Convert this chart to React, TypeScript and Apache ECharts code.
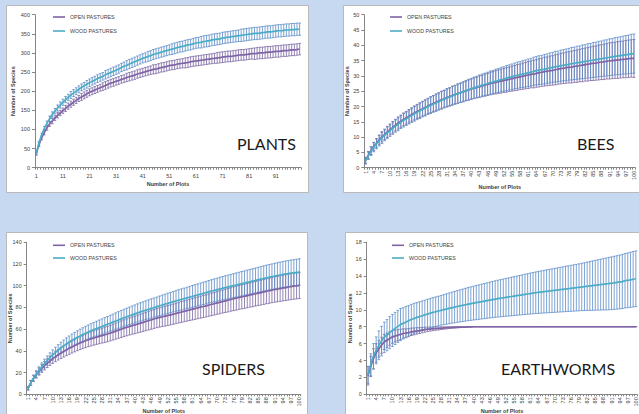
import React, { useEffect, useRef } from 'react';
import * as echarts from 'echarts';

// Number of plots (category axis) 1..100
const PLOTS = Array.from({ length: 100 }, (_, i) => String(i + 1));
const SERIES_NAMES = ['OPEN PASTURES', 'WOOD PASTURES'];

// ---------- PLANTS ----------
const PLANTS_OPEN = [
  37, 60, 78, 92, 104, 114, 122, 130, 137, 143,
  149, 155, 161, 166, 171, 176, 181, 185, 189, 193,
  197, 200, 203, 206, 209, 212, 215, 218, 221, 223,
  226, 228, 231, 233, 236, 238, 240, 242, 245, 247,
  249, 251, 253, 255, 257, 258, 260, 262, 263, 265,
  267, 268, 269, 271, 272, 273, 274, 275, 277, 278,
  279, 280, 281, 282, 283, 284, 285, 286, 287, 288,
  289, 290, 291, 291, 292, 293, 294, 295, 295, 296,
  297, 298, 298, 299, 300, 300, 301, 302, 302, 303,
  304, 304, 305, 306, 306, 307, 308, 308, 309, 310,
];
const PLANTS_OPEN_ERR = [
  4, 5, 5, 6, 6, 6, 7, 7, 7, 7,
  7, 8, 8, 8, 8, 8, 8, 9, 9, 9,
  9, 9, 9, 9, 9, 10, 10, 10, 10, 10,
  10, 10, 10, 10, 11, 11, 11, 11, 11, 11,
  11, 11, 11, 11, 12, 12, 12, 12, 12, 12,
  12, 12, 12, 12, 12, 12, 13, 13, 13, 13,
  13, 13, 13, 13, 13, 13, 13, 13, 14, 14,
  14, 14, 14, 14, 14, 14, 14, 14, 14, 14,
  14, 14, 15, 15, 15, 15, 15, 15, 15, 15,
  15, 15, 15, 15, 15, 15, 15, 15, 15, 15,
];
const PLANTS_WOOD = [
  38, 64, 85, 102, 116, 128, 139, 148, 156, 164,
  171, 178, 184, 190, 195, 200, 205, 210, 214, 218,
  222, 226, 229, 233, 236, 239, 243, 246, 249, 252,
  255, 258, 262, 265, 268, 271, 274, 277, 280, 283,
  286, 288, 291, 293, 296, 298, 300, 302, 304, 306,
  308, 310, 312, 314, 316, 317, 319, 321, 322, 324,
  326, 327, 328, 330, 331, 332, 334, 335, 336, 337,
  339, 340, 341, 342, 343, 344, 345, 346, 347, 348,
  349, 350, 351, 351, 352, 353, 354, 355, 355, 356,
  357, 358, 358, 359, 360, 360, 361, 361, 362, 362,
];
const PLANTS_WOOD_ERR = [
  4, 5, 5, 6, 6, 7, 7, 7, 8, 8,
  8, 8, 8, 9, 9, 9, 9, 9, 9, 10,
  10, 10, 10, 10, 10, 10, 11, 11, 11, 11,
  11, 11, 11, 11, 12, 12, 12, 12, 12, 12,
  12, 12, 13, 13, 13, 13, 13, 13, 13, 13,
  13, 14, 14, 14, 14, 14, 14, 14, 14, 14,
  14, 14, 15, 15, 15, 15, 15, 15, 15, 15,
  15, 15, 15, 15, 15, 15, 15, 16, 16, 16,
  16, 16, 16, 16, 16, 16, 16, 16, 16, 16,
  16, 16, 16, 16, 16, 16, 16, 16, 16, 16,
];

// ---------- BEES ----------
const BEES_OPEN = [
  2.4, 4.1, 5.6, 6.9, 8.0, 9.1, 10.1, 10.9, 11.7, 12.5,
  13.2, 13.9, 14.6, 15.2, 15.8, 16.3, 16.8, 17.4, 17.9, 18.4,
  18.8, 19.3, 19.7, 20.2, 20.6, 21.0, 21.4, 21.8, 22.2, 22.5,
  22.9, 23.2, 23.6, 23.9, 24.2, 24.5, 24.8, 25.1, 25.4, 25.7,
  26.0, 26.2, 26.5, 26.7, 27.0, 27.2, 27.5, 27.7, 27.9, 28.1,
  28.3, 28.5, 28.7, 28.9, 29.1, 29.3, 29.5, 29.7, 29.9, 30.1,
  30.3, 30.5, 30.6, 30.8, 31.0, 31.2, 31.4, 31.5, 31.7, 31.8,
  32.0, 32.2, 32.4, 32.5, 32.7, 32.8, 32.9, 33.1, 33.2, 33.4,
  33.5, 33.7, 33.8, 34.0, 34.1, 34.2, 34.4, 34.5, 34.6, 34.8,
  34.9, 35.0, 35.1, 35.2, 35.3, 35.4, 35.5, 35.6, 35.7, 35.7,
];
const BEES_OPEN_ERR = [
  1.0, 1.2, 1.3, 1.4, 1.5, 1.6, 1.7, 1.7, 1.8, 1.8,
  1.9, 1.9, 2.0, 2.0, 2.1, 2.1, 2.2, 2.2, 2.3, 2.3,
  2.4, 2.4, 2.5, 2.5, 2.6, 2.6, 2.7, 2.7, 2.8, 2.8,
  2.9, 2.9, 3.0, 3.0, 3.1, 3.1, 3.2, 3.2, 3.3, 3.3,
  3.4, 3.4, 3.5, 3.5, 3.6, 3.6, 3.7, 3.7, 3.8, 3.8,
  3.9, 3.9, 4.0, 4.0, 4.1, 4.1, 4.2, 4.2, 4.3, 4.3,
  4.4, 4.4, 4.5, 4.5, 4.6, 4.6, 4.7, 4.7, 4.8, 4.8,
  4.9, 4.9, 5.0, 5.0, 5.1, 5.1, 5.2, 5.2, 5.3, 5.3,
  5.4, 5.4, 5.5, 5.5, 5.6, 5.6, 5.7, 5.7, 5.8, 5.8,
  5.9, 5.9, 5.9, 6.0, 6.0, 6.0, 6.1, 6.1, 6.1, 6.2,
];
const BEES_WOOD = [
  2.2, 3.9, 5.4, 6.7, 7.8, 8.8, 9.7, 10.6, 11.4, 12.1,
  12.9, 13.6, 14.2, 14.9, 15.5, 16.0, 16.6, 17.1, 17.6, 18.1,
  18.6, 19.1, 19.5, 20.0, 20.4, 20.8, 21.2, 21.6, 22.0, 22.4,
  22.8, 23.1, 23.5, 23.8, 24.2, 24.5, 24.8, 25.2, 25.5, 25.8,
  26.1, 26.4, 26.7, 27.0, 27.2, 27.5, 27.8, 28.0, 28.3, 28.5,
  28.8, 29.0, 29.3, 29.5, 29.7, 30.0, 30.2, 30.4, 30.6, 30.8,
  31.0, 31.2, 31.5, 31.7, 31.9, 32.0, 32.2, 32.4, 32.6, 32.8,
  33.0, 33.1, 33.3, 33.5, 33.6, 33.8, 34.0, 34.1, 34.3, 34.4,
  34.6, 34.7, 34.9, 35.0, 35.2, 35.3, 35.5, 35.6, 35.8, 35.9,
  36.1, 36.2, 36.4, 36.5, 36.6, 36.8, 36.9, 37.0, 37.2, 37.3,
];
const BEES_WOOD_ERR = [
  1.0, 1.2, 1.4, 1.5, 1.6, 1.7, 1.8, 1.8, 1.9, 1.9,
  2.0, 2.0, 2.1, 2.1, 2.2, 2.2, 2.3, 2.3, 2.4, 2.4,
  2.5, 2.5, 2.6, 2.6, 2.7, 2.7, 2.8, 2.8, 2.9, 2.9,
  3.0, 3.0, 3.1, 3.1, 3.2, 3.2, 3.3, 3.3, 3.4, 3.4,
  3.5, 3.5, 3.6, 3.6, 3.7, 3.7, 3.8, 3.8, 3.9, 3.9,
  4.0, 4.0, 4.1, 4.1, 4.2, 4.2, 4.3, 4.3, 4.4, 4.4,
  4.5, 4.5, 4.6, 4.6, 4.7, 4.7, 4.8, 4.8, 4.9, 4.9,
  5.0, 5.0, 5.1, 5.1, 5.2, 5.2, 5.3, 5.3, 5.4, 5.4,
  5.5, 5.5, 5.6, 5.6, 5.7, 5.7, 5.8, 5.8, 5.9, 5.9,
  6.0, 6.0, 6.1, 6.1, 6.2, 6.2, 6.3, 6.3, 6.4, 6.4,
];

// ---------- SPIDERS ----------
const SPIDERS_OPEN = [
  5.5, 10.5, 14.5, 18.0, 21.0, 23.8, 26.3, 28.6, 30.8, 32.8,
  34.7, 36.4, 38.0, 39.5, 40.9, 42.3, 43.6, 44.9, 46.1, 47.2,
  48.3, 49.3, 50.3, 51.1, 51.9, 52.7, 53.4, 54.1, 54.8, 55.5,
  56.4, 57.3, 58.2, 59.1, 60.0, 60.9, 61.7, 62.5, 63.3, 64.0,
  64.8, 65.5, 66.3, 67.1, 67.9, 68.7, 69.4, 70.2, 70.8, 71.4,
  72.0, 72.6, 73.2, 73.8, 74.5, 75.2, 75.8, 76.5, 77.1, 77.8,
  78.4, 79.0, 79.7, 80.3, 80.9, 81.5, 82.2, 82.9, 83.5, 84.2,
  84.8, 85.5, 86.1, 86.7, 87.4, 88.0, 88.6, 89.2, 89.8, 90.3,
  90.9, 91.5, 92.0, 92.6, 93.2, 93.7, 94.3, 94.9, 95.4, 96.0,
  96.5, 96.9, 97.4, 97.9, 98.3, 98.8, 99.2, 99.6, 99.9, 100.3,
];
const SPIDERS_OPEN_ERR = [
  1.5, 2.2, 2.7, 3.0, 3.3, 3.6, 3.8, 4.0, 4.2, 4.4,
  4.6, 4.8, 5.0, 5.2, 5.3, 5.5, 5.6, 5.8, 5.9, 6.0,
  6.2, 6.3, 6.4, 6.5, 6.6, 6.7, 6.8, 6.9, 7.0, 7.1,
  7.2, 7.3, 7.4, 7.5, 7.6, 7.7, 7.8, 7.9, 8.0, 8.1,
  8.2, 8.3, 8.4, 8.5, 8.6, 8.7, 8.7, 8.8, 8.9, 9.0,
  9.1, 9.2, 9.2, 9.3, 9.4, 9.5, 9.6, 9.6, 9.7, 9.8,
  9.9, 10.0, 10.0, 10.1, 10.2, 10.2, 10.3, 10.4, 10.4, 10.5,
  10.6, 10.6, 10.7, 10.8, 10.8, 10.9, 11.0, 11.0, 11.1, 11.1,
  11.2, 11.2, 11.3, 11.3, 11.4, 11.4, 11.5, 11.5, 11.6, 11.6,
  11.7, 11.7, 11.8, 11.8, 11.9, 11.9, 12.0, 12.0, 12.0, 12.1,
];
const SPIDERS_WOOD = [
  5.5, 10.5, 15.0, 18.5, 21.8, 25.2, 28.3, 31.1, 33.8, 36.3,
  38.6, 40.7, 42.7, 44.6, 46.4, 48.1, 49.7, 51.1, 52.5, 53.8,
  55.0, 56.2, 57.4, 58.5, 59.5, 60.5, 61.5, 62.5, 63.5, 64.5,
  65.5, 66.5, 67.5, 68.5, 69.5, 70.5, 71.4, 72.3, 73.2, 74.1,
  75.0, 75.9, 76.7, 77.5, 78.3, 79.1, 79.9, 80.7, 81.5, 82.3,
  83.0, 83.8, 84.5, 85.3, 86.0, 86.7, 87.4, 88.1, 88.8, 89.5,
  90.2, 90.9, 91.6, 92.3, 93.0, 93.7, 94.4, 95.1, 95.8, 96.4,
  97.1, 97.7, 98.3, 98.9, 99.5, 100.1, 100.7, 101.3, 101.9, 102.5,
  103.1, 103.7, 104.3, 104.9, 105.5, 106.1, 106.7, 107.3, 107.8, 108.4,
  108.9, 109.4, 109.9, 110.4, 110.8, 111.2, 111.6, 111.9, 112.3, 112.6,
];
const SPIDERS_WOOD_ERR = [
  1.5, 2.3, 2.8, 3.2, 3.5, 3.8, 4.0, 4.2, 4.4, 4.6,
  4.8, 5.0, 5.2, 5.3, 5.5, 5.6, 5.8, 5.9, 6.0, 6.2,
  6.3, 6.4, 6.5, 6.6, 6.7, 6.8, 6.9, 7.0, 7.1, 7.2,
  7.3, 7.4, 7.5, 7.6, 7.7, 7.8, 7.9, 8.0, 8.1, 8.2,
  8.3, 8.4, 8.5, 8.6, 8.7, 8.8, 8.8, 8.9, 9.0, 9.1,
  9.2, 9.3, 9.3, 9.4, 9.5, 9.6, 9.7, 9.7, 9.8, 9.9,
  10.0, 10.1, 10.1, 10.2, 10.3, 10.3, 10.4, 10.5, 10.5, 10.6,
  10.7, 10.7, 10.8, 10.9, 10.9, 11.0, 11.1, 11.1, 11.2, 11.2,
  11.3, 11.3, 11.4, 11.4, 11.5, 11.5, 11.6, 11.6, 11.7, 11.7,
  11.8, 11.8, 11.9, 11.9, 12.0, 12.0, 12.1, 12.1, 12.1, 12.2,
];

// ---------- EARTHWORMS ----------
const WORMS_OPEN = [
  2.2, 3.3, 4.2, 4.9, 5.4, 5.8, 6.2, 6.4, 6.6, 6.8,
  6.9, 7.0, 7.1, 7.2, 7.25, 7.3, 7.4, 7.45, 7.5, 7.55,
  7.6, 7.65, 7.7, 7.72, 7.75, 7.78, 7.8, 7.83, 7.85, 7.87,
  7.9, 7.91, 7.93, 7.94, 7.95, 7.96, 7.97, 7.98, 7.99, 8,
  8, 8, 8, 8, 8, 8, 8, 8, 8, 8,
  8, 8, 8, 8, 8, 8, 8, 8, 8, 8,
  8, 8, 8, 8, 8, 8, 8, 8, 8, 8,
  8, 8, 8, 8, 8, 8, 8, 8, 8, 8,
  8, 8, 8, 8, 8, 8, 8, 8, 8, 8,
  8, 8, 8, 8, 8, 8, 8, 8, 8, 8,
];
const WORMS_OPEN_ERR = [
  1.1, 1.2, 1.2, 1.1, 1.0, 0.95, 0.9, 0.85, 0.8, 0.75,
  0.7, 0.65, 0.6, 0.55, 0.5, 0.47, 0.44, 0.41, 0.38, 0.35,
  0.32, 0.29, 0.26, 0.24, 0.22, 0.2, 0.18, 0.16, 0.14, 0.12,
  0.1, 0.09, 0.08, 0.07, 0.06, 0.05, 0.04, 0.03, 0.02, 0,
  0, 0, 0, 0, 0, 0, 0, 0, 0, 0,
  0, 0, 0, 0, 0, 0, 0, 0, 0, 0,
  0, 0, 0, 0, 0, 0, 0, 0, 0, 0,
  0, 0, 0, 0, 0, 0, 0, 0, 0, 0,
  0, 0, 0, 0, 0, 0, 0, 0, 0, 0,
  0, 0, 0, 0, 0, 0, 0, 0, 0, 0,
];
const WORMS_WOOD = [
  2.3, 3.5, 4.5, 5.2, 5.8, 6.3, 6.75, 7.0, 7.3, 7.55,
  7.8, 8.05, 8.25, 8.4, 8.55, 8.7, 8.85, 8.97, 9.1, 9.2,
  9.3, 9.4, 9.5, 9.6, 9.7, 9.78, 9.86, 9.94, 10.02, 10.1,
  10.18, 10.26, 10.33, 10.4, 10.47, 10.54, 10.61, 10.68, 10.74, 10.8,
  10.86, 10.92, 10.98, 11.04, 11.1, 11.16, 11.22, 11.28, 11.33, 11.38,
  11.43, 11.48, 11.53, 11.58, 11.63, 11.68, 11.73, 11.78, 11.83, 11.88,
  11.93, 11.98, 12.03, 12.07, 12.11, 12.15, 12.19, 12.23, 12.27, 12.31,
  12.35, 12.39, 12.43, 12.47, 12.51, 12.55, 12.59, 12.63, 12.67, 12.71,
  12.75, 12.79, 12.83, 12.87, 12.91, 12.95, 12.99, 13.03, 13.07, 13.11,
  13.15, 13.2, 13.25, 13.3, 13.35, 13.45, 13.5, 13.56, 13.62, 13.68,
];
const WORMS_WOOD_ERR = [
  1.0, 1.3, 1.5, 1.6, 1.7, 1.75, 1.8, 1.85, 1.9, 1.9,
  1.9, 1.9, 1.9, 1.85, 1.85, 1.8, 1.8, 1.8, 1.75, 1.75,
  1.75, 1.75, 1.75, 1.75, 1.75, 1.75, 1.75, 1.75, 1.78, 1.8,
  1.82, 1.84, 1.86, 1.88, 1.9, 1.92, 1.94, 1.96, 1.98, 2.0,
  2.02, 2.04, 2.06, 2.08, 2.1, 2.12, 2.14, 2.16, 2.18, 2.2,
  2.22, 2.24, 2.26, 2.28, 2.3, 2.32, 2.34, 2.36, 2.38, 2.4,
  2.42, 2.44, 2.46, 2.48, 2.5, 2.52, 2.54, 2.56, 2.58, 2.6,
  2.62, 2.64, 2.66, 2.68, 2.7, 2.72, 2.74, 2.76, 2.78, 2.8,
  2.83, 2.86, 2.89, 2.92, 2.95, 2.98, 3.01, 3.04, 3.07, 3.1,
  3.12, 3.14, 3.16, 3.18, 3.2, 3.22, 3.24, 3.26, 3.28, 3.3,
];

// ---------- layout / styling ----------
const FONT = 'Liberation Sans, Arial, sans-serif';
const OPEN_LINE = '#7f63a6';
const WOOD_LINE = '#4bacc6';
const OPEN_ERR = '#7a66a2';
const WOOD_ERR = '#5b8bc8';
const AXIS = '#868686';
const TXT = '#404040';
const LEGEND_ICON = 'path://M0,0H12V1.6H0Z';

type Panel = {
  title: string;
  open: number[]; openErr: number[]; wood: number[]; woodErr: number[];
  yMax: number; yStep: number;
  grid: [number, number, number, number];
  box: [number, number, number, number];
  every: number; rotate: number;
  legend: [number, number, number];
  titleAt: [number, number];
  yNameGap: number; xNameGap: number;
};

const PANELS: Panel[] = [
  {
    title: 'PLANTS', open: PLANTS_OPEN, openErr: PLANTS_OPEN_ERR, wood: PLANTS_WOOD, woodErr: PLANTS_WOOD_ERR,
    yMax: 400, yStep: 50, grid: [35, 14.7, 266, 153], box: [6, 5, 302, 187],
    every: 10, rotate: 0, legend: [53, 14.5, 9], titleAt: [237, 143], yNameGap: 19, xNameGap: 13,
  },
  {
    title: 'BEES', open: BEES_OPEN, openErr: BEES_OPEN_ERR, wood: BEES_WOOD, woodErr: BEES_WOOD_ERR,
    yMax: 50, yStep: 5, grid: [364.3, 14.7, 271, 153], box: [343, 5, 310, 187],
    every: 3, rotate: 90, legend: [390, 14.5, 9], titleAt: [577, 143], yNameGap: 14, xNameGap: 16.5,
  },
  {
    title: 'SPIDERS', open: SPIDERS_OPEN, openErr: SPIDERS_OPEN_ERR, wood: SPIDERS_WOOD, woodErr: SPIDERS_WOOD_ERR,
    yMax: 140, yStep: 20, grid: [26.7, 242.3, 274, 152], box: [6, 232, 301, 200],
    every: 3, rotate: 90, legend: [53, 242.8, 7.7], titleAt: [202, 368], yNameGap: 14, xNameGap: 13.5,
  },
  {
    title: 'EARTHWORMS', open: WORMS_OPEN, openErr: WORMS_OPEN_ERR, wood: WORMS_WOOD, woodErr: WORMS_WOOD_ERR,
    yMax: 18, yStep: 2, grid: [366.7, 242.3, 270.5, 152], box: [345, 232, 310, 200],
    every: 3, rotate: 90, legend: [392, 242.8, 7.7], titleAt: [501, 368], yNameGap: 14, xNameGap: 13.5,
  },
];

function errorBars(mean: number[], err: number[], color: string, idx: number) {
  return {
    type: 'custom',
    xAxisIndex: idx,
    yAxisIndex: idx,
    silent: true,
    z: 2,
    data: mean.map((m, i) => [i, m - err[i], m + err[i]]),
    encode: { x: 0, y: [1, 2] },
    renderItem: (_p: any, api: any) => {
      const x = api.value(0);
      const lo = api.coord([x, api.value(1)]);
      const hi = api.coord([x, api.value(2)]);
      const w = api.size([1, 0])[0] * 0.5;
      const style = { stroke: color, lineWidth: 0.8, fill: null };
      return {
        type: 'group',
        children: [
          { type: 'line', shape: { x1: lo[0], y1: lo[1], x2: hi[0], y2: hi[1] }, style },
          { type: 'line', shape: { x1: lo[0] - w, y1: lo[1], x2: lo[0] + w, y2: lo[1] }, style },
          { type: 'line', shape: { x1: hi[0] - w, y1: hi[1], x2: hi[0] + w, y2: hi[1] }, style },
        ],
      };
    },
  };
}

function buildOption() {
  const grid: any[] = [];
  const xAxis: any[] = [];
  const yAxis: any[] = [];
  const series: any[] = [];
  const legend: any[] = [];
  const graphic: any[] = [];

  PANELS.forEach((p, i) => {
    graphic.push({
      type: 'rect', z: -10,
      shape: { x: p.box[0] + 0.5, y: p.box[1] + 0.5, width: p.box[2], height: p.box[3] },
      style: { fill: '#ffffff', stroke: '#b9b9b9', lineWidth: 1 },
    });
    graphic.push({
      type: 'text', z: 100, x: p.titleAt[0], y: p.titleAt[1],
      style: {
        text: p.title, fontFamily: 'Lato, Liberation Sans, sans-serif', fontSize: 16,
        fill: '#1a1a1a', verticalAlign: 'middle', align: 'left',
      },
    });
    grid.push({
      left: p.grid[0], top: p.grid[1], width: p.grid[2], height: p.grid[3],
      containLabel: false, outerBoundsMode: 'none',
    });
    xAxis.push({
      type: 'category', gridIndex: i, data: PLOTS, boundaryGap: true,
      axisLine: { show: true, lineStyle: { color: AXIS, width: 1 } },
      axisTick: { show: true, interval: 0, length: 2, lineStyle: { color: AXIS } },
      axisLabel: {
        interval: p.every - 1, rotate: p.rotate, fontSize: 5.5, color: TXT,
        fontFamily: FONT, margin: p.rotate ? 3 : 5,
      },
      splitLine: { show: false },
      name: 'Number of Plots', nameLocation: 'middle', nameGap: p.xNameGap,
      nameMoveOverlap: false,
      nameTextStyle: { fontSize: 5.5, fontWeight: 'bold', color: TXT, fontFamily: FONT },
    });
    yAxis.push({
      type: 'value', gridIndex: i, min: 0, max: p.yMax, interval: p.yStep,
      axisLine: { show: true, lineStyle: { color: AXIS, width: 1 } },
      axisTick: { show: true, length: 3, lineStyle: { color: AXIS } },
      axisLabel: { fontSize: 5.5, color: TXT, fontFamily: FONT, margin: 5 },
      splitLine: { show: false },
      name: 'Number of Species', nameLocation: 'middle', nameGap: p.yNameGap,
      nameMoveOverlap: false,
      nameTextStyle: { fontSize: 5.5, fontWeight: 'bold', color: TXT, fontFamily: FONT },
    });
    series.push(errorBars(p.open, p.openErr, OPEN_ERR, i));
    series.push(errorBars(p.wood, p.woodErr, WOOD_ERR, i));
    series.push({
      type: 'line', name: SERIES_NAMES[0], xAxisIndex: i, yAxisIndex: i, data: p.open,
      symbol: 'none', showSymbol: false, smooth: true, z: 3,
      lineStyle: { color: OPEN_LINE, width: 1.7 }, itemStyle: { color: OPEN_LINE },
    });
    series.push({
      type: 'line', name: SERIES_NAMES[1], xAxisIndex: i, yAxisIndex: i, data: p.wood,
      symbol: 'none', showSymbol: false, smooth: true, z: 4,
      lineStyle: { color: WOOD_LINE, width: 1.7 }, itemStyle: { color: WOOD_LINE },
    });
    legend.push({
      left: p.legend[0], top: p.legend[1], orient: 'vertical', padding: 0,
      icon: LEGEND_ICON, itemWidth: 12, itemHeight: 7, itemGap: p.legend[2],
      selectedMode: false, data: SERIES_NAMES,
      textStyle: { fontSize: 5.3, color: TXT, fontFamily: FONT },
    });
  });

  return {
    animation: false,
    backgroundColor: '#c6d9f0',
    grid, xAxis, yAxis, series, legend, graphic,
  };
}

export default function App() {
  const ref = useRef<HTMLDivElement>(null);
  useEffect(() => {
    if (!ref.current) return;
    const chart = echarts.init(ref.current, null, { renderer: 'svg' });
    chart.setOption(buildOption() as any);
    return () => chart.dispose();
  }, []);
  return (
    <div
      ref={ref}
      style={{ position: 'absolute', left: 0, top: 0, width: 639, height: 414 }}
    />
  );
}
